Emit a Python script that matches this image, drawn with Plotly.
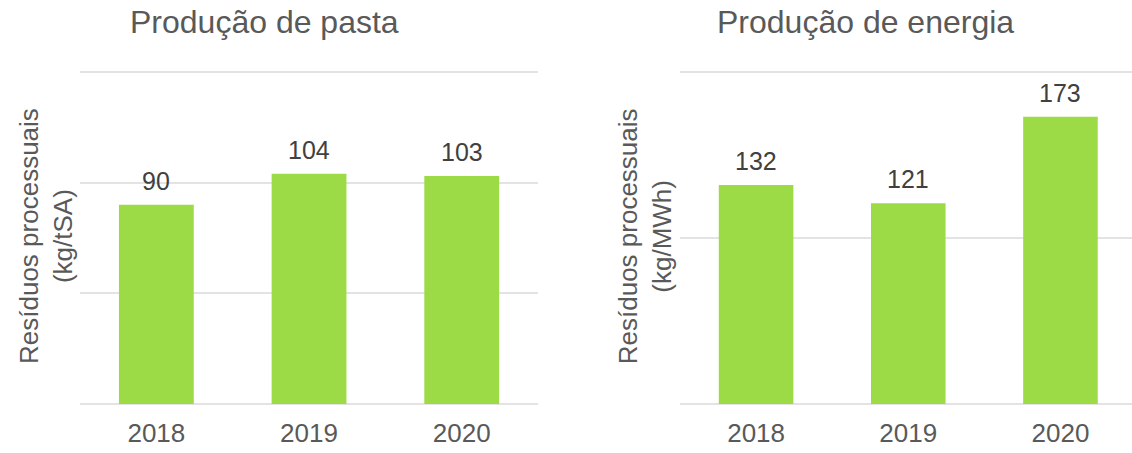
import plotly.graph_objects as go

years = ["2018", "2019", "2020"]
pasta = [90, 104, 103]
energia = [132, 121, 173]

_GREEN = "#9CDB45"
_GRID = "#E3E3E3"
_TXT = "#595959"
_FONT = "Liberation Sans, Arial, sans-serif"

fig = go.Figure()
annots = []

for vals, xa, ya in [(pasta, "x", "y"), (energia, "x2", "y2")]:
    fig.add_trace(
        go.Bar(
            x=years,
            y=vals,
            xaxis=xa,
            yaxis=ya,
            marker=dict(color=_GREEN, line=dict(width=0)),
            showlegend=False,
            hoverinfo="x+y",
        )
    )
    # value labels sitting a bit above each bar (x = category index)
    for i, v in enumerate(vals):
        annots.append(
            dict(text=str(v), x=i, y=v, xref=xa, yref=ya, showarrow=False,
                 xanchor="center", yanchor="bottom", yshift=8,
                 font=dict(size=25, color="#404040"))
        )

axis_x = dict(
    type="category",
    showgrid=False,
    showline=False,
    ticks="",
    tickfont=dict(size=26, color=_TXT, family=_FONT),
    ticklabelstandoff=8,
)
axis_y = dict(
    showticklabels=False,
    showgrid=True,
    gridcolor=_GRID,
    gridwidth=2,
    zeroline=False,
    showline=False,
    ticks="",
)

titles = [
    dict(text="Produção de pasta", x=0.234, y=0.951, size=32),
    dict(text="Produção de energia", x=0.765, y=0.951, size=32),
]
for t in titles:
    annots.append(
        dict(text=t["text"], x=t["x"], y=t["y"], xref="paper", yref="paper",
             xanchor="center", yanchor="middle", showarrow=False,
             font=dict(size=t["size"], color=_TXT))
    )
for txt, xpos in [("Resíduos processuais<br>(kg/tSA)", 0.0406),
                  ("Resíduos processuais<br>(kg/MWh)", 0.570)]:
    annots.append(
        dict(text=txt, x=xpos, y=0.479, xref="paper", yref="paper",
             xanchor="center", yanchor="middle", textangle=-90,
             showarrow=False, font=dict(size=26, color=_TXT))
    )

fig.update_layout(
    width=1132,
    height=453,
    margin=dict(l=0, r=0, t=0, b=0),
    paper_bgcolor="white",
    plot_bgcolor="white",
    bargap=0.51,
    font=dict(family=_FONT, color=_TXT),
    xaxis=dict(axis_x, domain=[0.0707, 0.4753], range=[-0.5, 2.5]),
    xaxis2=dict(axis_x, domain=[0.6007, 1.0], range=[-0.5, 2.47]),
    yaxis=dict(axis_y, domain=[0.1008, 0.8483], range=[-1.5, 151.5], dtick=50),
    yaxis2=dict(axis_y, domain=[0.1008, 0.8483], range=[-2, 202], dtick=100),
    annotations=annots,
)

fig.write_html(
    "out.html",
    config={"displayModeBar": False},
    post_script="document.body.style.margin='0';",
)
